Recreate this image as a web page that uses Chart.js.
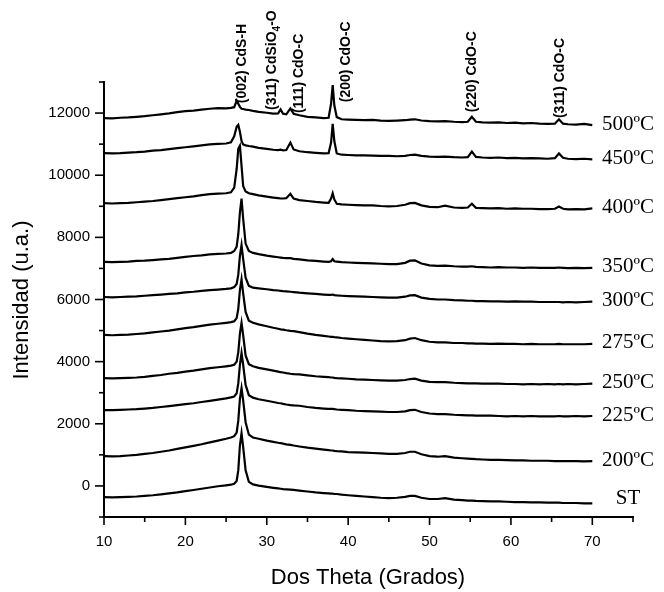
<!DOCTYPE html>
<html><head><meta charset="utf-8">
<script src="https://cdn.jsdelivr.net/npm/chart.js@4/dist/chart.umd.min.js"></script>
<style>html,body{margin:0;padding:0;background:#fff}#wrap{width:664px;height:592px;position:relative}</style>
</head><body><div id="wrap"><canvas id="c" width="664" height="592"></canvas></div>
<script>
// ---- data (2θ grid shared by all patterns) ----
const twoTheta = [10,11,12,13,14,15,16,17,18,19,20,21,22,23,24,25,
  25.6,26.0,26.3,26.5,26.7,26.9,27.1,27.4,27.8,28.3,
  29,30,30.8,31.4,31.7,32.0,32.4,32.9,33.3,34,
  35,36,37,37.6,37.9,38.1,38.3,38.6,39.2,40,
  41,42,43,44,45,46,47,
  47.6,48.2,49,50,51,51.9,53,54,54.7,55.2,
  55.7,56.5,57.5,58.5,59.5,60.5,61.5,62.5,63.5,64.5,
  65.4,65.9,66.4,67,68,69,70];

const sST = [-360,-370,-360,-350,-340,-320,-300,-270,-240,-210,-170,-130,-90,-50,-10,20,
  40,70,160,500,1300,1700,1250,500,130,50,
  10,-30,-60,-80,-90,-100,-110,-120,-130,-150,
  -180,-210,-230,-240,-250,-250,-260,-260,-280,-300,
  -320,-340,-360,-380,-390,-380,-350,
  -320,-320,-380,-420,-420,-390,-440,-460,-470,-470,
  -480,-490,-500,-500,-510,-520,-520,-530,-530,-540,
  -540,-540,-550,-550,-550,-560,-560];
const s200 = [960,950,960,980,1000,1030,1060,1100,1140,1190,1240,1290,1340,1400,1460,1520,
  1560,1600,1720,2100,2800,3150,2750,2050,1650,1560,
  1520,1460,1420,1390,1380,1360,1340,1320,1300,1270,
  1230,1200,1170,1150,1140,1140,1130,1120,1110,1090,
  1080,1070,1060,1050,1030,1030,1060,
  1100,1100,1020,960,940,960,910,890,880,870,
  860,850,840,840,830,820,820,810,810,810,
  800,800,800,800,800,790,800];
const s225 = [2440,2440,2450,2460,2470,2490,2510,2540,2570,2600,2630,2660,2700,2740,2780,2820,
  2850,2880,2980,3300,3900,4280,3900,3250,2920,2840,
  2790,2740,2700,2670,2660,2640,2620,2600,2590,2580,
  2540,2510,2490,2480,2480,2480,2470,2460,2450,2440,
  2420,2410,2400,2390,2380,2380,2400,
  2440,2450,2380,2330,2310,2310,2290,2280,2270,2270,
  2260,2260,2260,2250,2240,2250,2240,2250,2240,2240,
  2240,2250,2240,2240,2250,2240,2250];
const s250 = [3470,3460,3470,3480,3490,3510,3540,3570,3610,3640,3680,3710,3750,3790,3820,3850,
  3870,3900,4000,4300,4900,5250,4850,4200,3920,3850,
  3800,3750,3710,3680,3660,3650,3630,3610,3600,3590,
  3560,3530,3510,3500,3490,3490,3480,3470,3460,3450,
  3430,3420,3410,3400,3390,3390,3410,
  3440,3450,3390,3350,3340,3340,3320,3310,3300,3300,
  3300,3290,3290,3290,3280,3280,3270,3280,3270,3280,
  3270,3280,3270,3280,3270,3280,3290];
const s275 = [4860,4850,4860,4870,4890,4910,4940,4970,5000,5040,5080,5110,5150,5190,5220,5250,
  5270,5300,5400,5700,6300,6650,6200,5600,5320,5250,
  5200,5140,5090,5060,5040,5030,5010,4990,4980,4950,
  4900,4860,4830,4810,4800,4800,4790,4780,4760,4740,
  4720,4700,4680,4660,4650,4660,4690,
  4740,4760,4690,4640,4620,4620,4600,4600,4590,4590,
  4580,4580,4570,4580,4570,4570,4560,4570,4560,4560,
  4560,4570,4560,4560,4560,4560,4570];
const s300 = [6080,6070,6080,6090,6100,6120,6140,6160,6180,6200,6230,6250,6280,6300,6320,6340,
  6360,6400,6500,6800,7400,7750,7300,6700,6440,6380,
  6360,6330,6300,6290,6280,6270,6260,6250,6240,6220,
  6200,6180,6160,6150,6150,6160,6140,6130,6120,6110,
  6100,6090,6080,6070,6060,6060,6090,
  6130,6140,6060,6020,6000,6000,5980,5970,5960,5960,
  5950,5950,5940,5940,5930,5940,5930,5930,5920,5920,
  5920,5920,5910,5920,5910,5920,5930];
const s350 = [7210,7200,7210,7220,7240,7250,7270,7290,7310,7340,7370,7400,7420,7450,7470,7480,
  7500,7560,7700,8100,8800,9250,8600,7800,7560,7500,
  7460,7410,7380,7360,7350,7340,7330,7330,7310,7290,
  7260,7240,7220,7210,7230,7300,7230,7220,7200,7190,
  7180,7170,7160,7150,7140,7140,7180,
  7250,7260,7160,7100,7080,7090,7070,7060,7060,7070,
  7050,7040,7030,7040,7030,7030,7020,7030,7020,7020,
  7020,7030,7020,7010,7020,7010,7020];
const s400 = [9100,9090,9100,9110,9130,9150,9170,9200,9230,9260,9290,9320,9360,9390,9410,9420,
  9450,9600,10200,10850,10950,10300,9650,9480,9420,9390,
  9350,9310,9280,9260,9250,9250,9260,9400,9250,9200,
  9170,9140,9120,9110,9250,9420,9220,9080,9060,9050,
  9040,9030,9030,9010,9000,9010,9050,
  9100,9110,9030,8980,8970,9020,8960,8950,8960,9080,
  8950,8940,8930,8940,8920,8930,8920,8920,8910,8910,
  8920,8990,8920,8900,8910,8900,8930];
const s450 = [10710,10700,10710,10730,10740,10760,10790,10810,10840,10870,10900,10930,10960,10990,11010,11020,
  11060,11250,11560,11620,11400,11100,10990,10960,10940,10920,
  10880,10850,10820,10810,10820,10800,10810,11050,10830,10770,
  10740,10720,10700,10710,11050,11650,11100,10700,10660,10650,
  10640,10640,10630,10620,10620,10610,10620,
  10650,10660,10620,10600,10590,10600,10580,10570,10580,10760,
  10590,10570,10560,10570,10550,10560,10540,10550,10540,10530,
  10550,10700,10560,10530,10520,10530,10510];
const s500 = [11840,11830,11850,11860,11880,11900,11930,11960,11990,12030,12060,12080,12110,12140,12160,12150,
  12170,12190,12400,12300,12200,12140,12130,12110,12100,12070,
  12040,12010,11980,11990,12120,11980,11960,12150,11980,11930,
  11880,11860,11840,11850,12300,12900,12250,11870,11800,11790,
  11780,11770,11780,11760,11750,11760,11770,
  11790,11800,11760,11740,11730,11740,11720,11710,11720,11880,
  11720,11700,11690,11700,11680,11690,11670,11680,11660,11650,
  11660,11800,11660,11640,11630,11650,11610];

const seriesLabels = ['ST','200ºC','225ºC','250ºC','275ºC','300ºC','350ºC','400ºC','450ºC','500ºC'];
const seriesValues = [sST,s200,s225,s250,s275,s300,s350,s400,s450,s500];

const peakLabelText = [['(002) CdS-H'],['(311) CdSiO','4','-O'],['(111) CdO-C'],['(200) CdO-C'],['(220) CdO-C'],['(311) CdO-C']];
const peakLabelTheta = [27.0, 30.7, 34.0, 39.8, 55.2, 66.1];
const peakLabelBase = [12320, 12100, 12000, 12350, 12030, 11840];

const xTickLabels = [10,20,30,40,50,60,70];
const yTickLabels = [0,2000,4000,6000,8000,10000,12000];

const xTitle = 'Dos Theta (Grados)';
const yTitle = 'Intensidad (u.a.)';

// ---- chart ----
const SANS = '"Liberation Sans", Arial, sans-serif';
const SERIF = '"Liberation Serif", "Times New Roman", serif';

const decor = {
  id: 'decor',
  afterDraw(chart) {
    const ctx = chart.ctx, xs = chart.scales.x, ys = chart.scales.y;
    ctx.save();
    ctx.strokeStyle = '#000'; ctx.lineWidth = 1.6;
    // ticks
    xs.ticks.forEach(t => {
      const px = xs.getPixelForValue(t.value);
      const len = xTickLabels.includes(t.value) ? 8 : 5;
      ctx.beginPath(); ctx.moveTo(px, ys.bottom); ctx.lineTo(px, ys.bottom + len); ctx.stroke();
    });
    ys.ticks.forEach(t => {
      const py = ys.getPixelForValue(t.value);
      const len = yTickLabels.includes(t.value) ? 9 : 5;
      ctx.beginPath(); ctx.moveTo(xs.left, py); ctx.lineTo(xs.left - len, py); ctx.stroke();
    });
    // series labels
    ctx.fillStyle = '#000';
    ctx.font = '21px ' + SERIF;
    ctx.textBaseline = 'middle';
    seriesLabels.forEach((lab, i) => {
      const vals = seriesValues[i];
      const py = ys.getPixelForValue(vals[vals.length - 1]);
      if (lab === 'ST') {
        ctx.textAlign = 'center';
        ctx.fillText(lab, 628, py - 5);
      } else {
        ctx.textAlign = 'left';
        ctx.fillText(lab, 602, py - 1);
      }
    });
    // peak labels (rotated)
    const PF = 'bold 14px ' + SANS;
    ctx.font = PF;
    peakLabelText.forEach((parts, i) => {
      const px = xs.getPixelForValue(peakLabelTheta[i]);
      const py = ys.getPixelForValue(peakLabelBase[i]);
      ctx.save();
      ctx.translate(px, py);
      ctx.rotate(-Math.PI / 2);
      ctx.textAlign = 'left'; ctx.textBaseline = 'middle';
      let off = 0;
      parts.forEach((p, k) => {
        if (parts.length === 3 && k === 1) {
          ctx.font = 'bold 10px ' + SANS;
          ctx.fillText(p, off, 5);
          off += ctx.measureText(p).width;
          ctx.font = PF;
        } else {
          ctx.fillText(p, off, 0);
          off += ctx.measureText(p).width;
        }
      });
      ctx.restore();
    });
    // axis titles
    ctx.font = '22px ' + SANS;
    ctx.textAlign = 'center'; ctx.textBaseline = 'middle';
    ctx.fillText(xTitle, 368, 578);
    ctx.save();
    ctx.translate(22, 300);
    ctx.rotate(-Math.PI / 2);
    ctx.fillText(yTitle, 0, 0);
    ctx.restore();
    ctx.restore();
  }
};

new Chart(document.getElementById('c'), {
  type: 'scatter',
  data: {
    datasets: seriesValues.map((vals, i) => ({
      label: seriesLabels[i],
      data: twoTheta.map((x, j) => ({ x: x, y: vals[j] })),
      showLine: true,
      borderColor: '#000',
      borderWidth: 2.2,
      pointRadius: 0,
      tension: 0
    }))
  },
  options: {
    responsive: false,
    animation: false,
    layout: { padding: { top: 82, right: 31, left: 0, bottom: 0 } },
    plugins: { legend: { display: false }, tooltip: { enabled: false } },
    scales: {
      x: {
        type: 'linear', min: 10, max: 75,
        afterFit(s) { s.height = 75; },
        grid: { display: false, drawTicks: false },
        border: { display: true, color: '#000', width: 2 },
        ticks: {
          stepSize: 5, autoSkip: false, maxRotation: 0, color: '#000', padding: 16,
          font: { family: SANS, size: 15 },
          callback: v => xTickLabels.includes(v) ? String(v) : ''
        }
      },
      y: {
        type: 'linear', min: -1000, max: 13000,
        afterFit(s) { s.width = 104; },
        grid: { display: false, drawTicks: false },
        border: { display: true, color: '#000', width: 2 },
        ticks: {
          stepSize: 1000, autoSkip: false, color: '#000', padding: 14,
          font: { family: SANS, size: 15 },
          callback: v => yTickLabels.includes(v) ? String(v) : ''
        }
      }
    }
  },
  plugins: [decor]
});
</script>
</body></html>
